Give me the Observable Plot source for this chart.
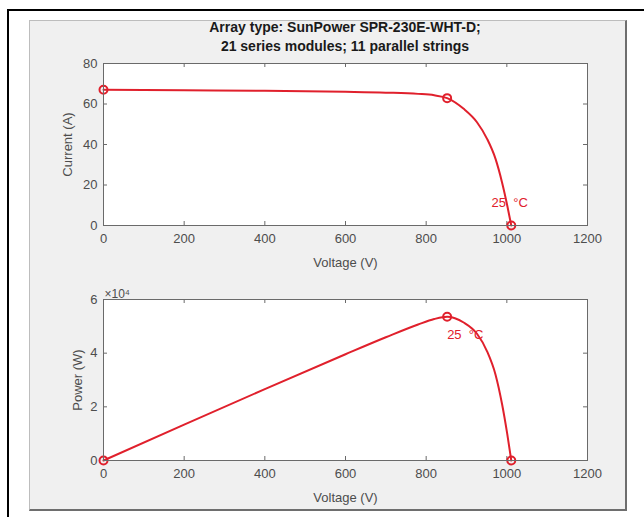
<!DOCTYPE html>
<html><head><meta charset="utf-8">
<script src="https://cdn.jsdelivr.net/npm/d3@7"></script>
<script src="https://cdn.jsdelivr.net/npm/@observablehq/plot@0.6"></script>
<style>
body{margin:0;background:#fff;font-family:"Liberation Sans",Arial,sans-serif;}
#page{position:relative;width:644px;height:517px;overflow:hidden;background:#fff;}
#frameTop{position:absolute;left:7px;top:9px;width:640px;height:2px;background:#000;}
#frameLeft{position:absolute;left:7px;top:9px;width:2px;height:510px;background:#000;}
#panel{position:absolute;left:29px;top:20px;width:595px;height:488px;background:#f0f0f0;border-top:1px solid #bdbdbd;border-left:1px solid #bdbdbd;border-right:2px solid #6e6e6e;border-bottom:2px solid #6e6e6e;}
#title{position:absolute;left:103px;width:484px;top:18px;text-align:center;font-weight:bold;font-size:14px;line-height:19px;color:#1a1a1a;}
.plot{position:absolute;left:29px;}
</style>
</head><body>
<div id="page">
  <div id="frameTop"></div><div id="frameLeft"></div>
  <div id="panel"></div>
  <div id="title">Array type: SunPower SPR-230E-WHT-D;<br>21 series modules; 11 parallel strings</div>
  <div id="p1" class="plot" style="top:55px"></div>
  <div id="p2" class="plot" style="top:285px"></div>
</div>
<script>
// ---- data ----
const voltage = [0, 200, 400, 600, 700, 780, 820, 852, 893, 926, 951, 972, 988, 1001, 1011];
const current = [67.0, 66.8, 66.5, 66.0, 65.6, 65.0, 64.3, 62.9, 57.6, 51.0, 42.8, 32.9, 21.4, 9.9, 0];
const power = [0, 13360, 26600, 39600, 45920, 50700, 52726, 53591, 51437, 47226, 40703, 31979, 21143, 9910, 0];
const markerV = [0, 852, 1011];
const markerI = [67.0, 62.9, 0];
const markerP = [0, 53591, 0];
const xTicks = [0, 200, 400, 600, 800, 1000, 1200];
const currentTicks = [0, 20, 40, 60, 80];
const powerTicks = [0, 20000, 40000, 60000];
const powerTickLabels = ["0", "2", "4", "6"];
const tempLabel = "25\u00a0\u00a0°C";
const tempLabelV = [962, 852];
const tempLabelY = [11.4, 46960];
const exponentLabel = "×10⁴";

const red = "#e0202c";
const axisColor = "#6a6a6a";
const frameW = 484;

const ivData = voltage.map((v, i) => ({v, y: current[i]}));
const pvData = voltage.map((v, i) => ({v, y: power[i]}));
const ivMarks = markerV.map((v, i) => ({v, y: markerI[i]}));
const pvMarks = markerV.map((v, i) => ({v, y: markerP[i]}));

function inward(fh, yt) {
  return [
    Plot.tickX(xTicks, {x: d => d, insetTop: fh - 4, stroke: axisColor}),
    Plot.tickX(xTicks, {x: d => d, insetBottom: fh - 4, stroke: axisColor}),
    Plot.tickY(yt, {y: d => d, insetRight: frameW - 4, stroke: axisColor}),
    Plot.tickY(yt, {y: d => d, insetLeft: frameW - 4, stroke: axisColor})
  ];
}
const style = {background: "transparent", fontFamily: "Liberation Sans, Arial, sans-serif", fontSize: "13px", color: "#4d4d4d"};
const xFmt = d => String(d);

const p1 = Plot.plot({
  width: 598, height: 220, marginLeft: 74, marginRight: 40, marginTop: 8, marginBottom: 50,
  x: {domain: [0, 1200]}, y: {domain: [0, 80]}, style,
  marks: [
    Plot.frame({fill: "white", stroke: null}),
    Plot.axisX({ticks: xTicks, tickFormat: xFmt, tickSize: 0, tickPadding: 8, label: "Voltage (V)", labelAnchor: "center", labelArrow: "none", labelOffset: 41}),
    Plot.axisY({ticks: currentTicks, tickFormat: xFmt, tickSize: 0, tickPadding: 6, label: "Current (A)", labelAnchor: "center", labelArrow: "none", labelOffset: 41}),
    ...inward(162, currentTicks),
    Plot.line(ivData, {x: "v", y: "y", stroke: red, strokeWidth: 2, curve: "monotone-x"}),
    Plot.dot(ivMarks, {x: "v", y: "y", r: 4, stroke: red, strokeWidth: 2, fill: "none"}),
    Plot.text([tempLabel], {x: tempLabelV[0], y: tempLabelY[0], text: d => d, textAnchor: "start", fill: red, fontSize: 13}),
    Plot.frame({stroke: axisColor})
  ]
});
document.getElementById("p1").append(p1);

const p2 = Plot.plot({
  width: 598, height: 225, marginLeft: 74, marginRight: 40, marginTop: 14, marginBottom: 50,
  x: {domain: [0, 1200]}, y: {domain: [0, 60000]}, style,
  marks: [
    Plot.frame({fill: "white", stroke: null}),
    Plot.axisX({ticks: xTicks, tickFormat: xFmt, tickSize: 0, tickPadding: 8, label: "Voltage (V)", labelAnchor: "center", labelArrow: "none", labelOffset: 41}),
    Plot.axisY({ticks: powerTicks, tickFormat: d => powerTickLabels[powerTicks.indexOf(d)], tickSize: 0, tickPadding: 6, label: "Power (W)", labelAnchor: "center", labelArrow: "none", labelOffset: 31}),
    ...inward(161, powerTicks),
    Plot.line(pvData, {x: "v", y: "y", stroke: red, strokeWidth: 2, curve: "monotone-x"}),
    Plot.dot(pvMarks, {x: "v", y: "y", r: 4, stroke: red, strokeWidth: 2, fill: "none"}),
    Plot.text([tempLabel], {x: tempLabelV[1], y: tempLabelY[1], text: d => d, textAnchor: "start", fill: red, fontSize: 13}),
    Plot.text([exponentLabel], {frameAnchor: "top-left", dx: 1, dy: -10, text: d => d, textAnchor: "start", fill: "#4d4d4d", fontSize: 12}),
    Plot.frame({stroke: axisColor})
  ]
});
document.getElementById("p2").append(p2);
</script>
</body></html>
